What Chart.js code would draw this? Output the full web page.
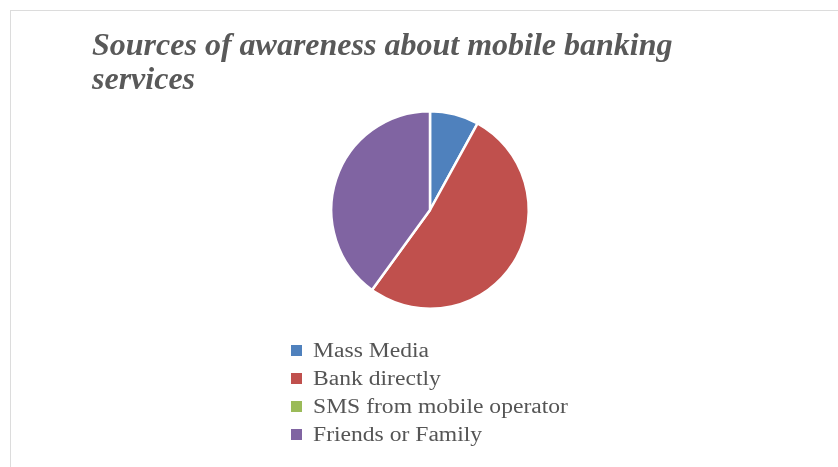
<!DOCTYPE html>
<html>
<head>
<meta charset="utf-8">
<script src="https://cdn.jsdelivr.net/npm/chart.js@4/dist/chart.umd.min.js"></script>
<style>
  html, body { margin: 0; padding: 0; background: #fff; overflow: hidden; }
  #frame {
    position: absolute; left: 10px; top: 10px; width: 900px; height: 500px;
    border-left: 1px solid #dcdcdc; border-top: 1px solid #dcdcdc;
  }
  #chart { position: absolute; left: 0; top: 0; }
</style>
</head>
<body>
<div id="frame"></div>
<canvas id="chart" width="838" height="467"></canvas>
<script>
const titleLines = ['Sources of awareness about mobile banking', 'services'];
const sources = ['Mass Media', 'Bank directly', 'SMS from mobile operator', 'Friends or Family'];
const shares = [8, 52, 0, 40];
const sliceColors = ['#4f81bd', '#c0504d', '#9bbb59', '#8064a2'];

// vertical legend under the pie, drawn on the canvas
const listLegend = {
    id: 'listLegend',
    afterDraw(chart) {
        const ctx = chart.ctx;
        const ds = chart.data.datasets[0];
        ctx.save();
        ctx.font = '20px "Liberation Serif", "Times New Roman", serif';
        ctx.textBaseline = 'alphabetic';
        chart.data.labels.forEach((label, i) => {
            const base = 357 + i * 28;
            ctx.fillStyle = ds.backgroundColor[i];
            ctx.fillRect(291, base - 12, 11, 11);
            ctx.fillStyle = '#555';
            ctx.save();
            ctx.translate(313, base);
            ctx.scale(1.18, 1);
            ctx.fillText(label, 0, 0);
            ctx.restore();
        });
        ctx.restore();
    }
};

new Chart(document.getElementById('chart'), {
    type: 'pie',
    data: {
        labels: sources,
        datasets: [{
            data: shares,
            backgroundColor: sliceColors,
            borderColor: '#fff',
            borderWidth: 2.5
        }]
    },
    options: {
        responsive: false,
        animation: false,
        layout: { padding: { left: 92, right: 70, top: 10, bottom: 157 } },
        plugins: {
            legend: { display: false },
            tooltip: { enabled: false },
            title: {
                display: true,
                text: titleLines,
                align: 'start',
                color: '#595959',
                font: { family: '"Liberation Serif", "Times New Roman", serif', size: 32, weight: 'bold', style: 'italic', lineHeight: 1.0625 },
                padding: { top: 20, bottom: 12 }
            }
        }
    },
    plugins: [listLegend]
});
</script>
</body>
</html>
